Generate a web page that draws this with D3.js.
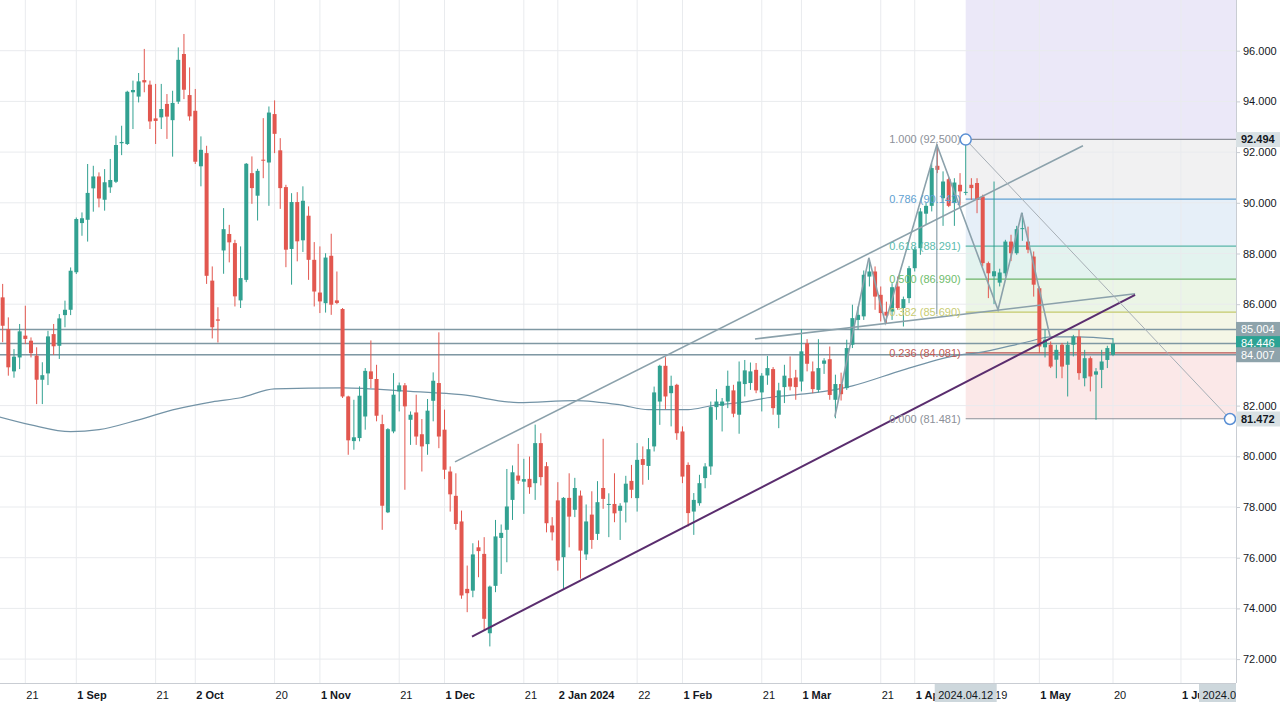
<!DOCTYPE html>
<html>
<head>
<meta charset="utf-8">
<script src="https://cdn.jsdelivr.net/npm/d3@7"></script>
<style>
    body { margin: 0; background: #ffffff; }
    svg { display: block; font-family: "Liberation Sans", Arial, sans-serif; }
</style>
</head>
<body>
<svg id="chart" width="1280" height="702"></svg>
<script>
// Daily candles, 15 Aug 2023 - 20 May 2024 (bar 0 = 15 Aug)
let opens = [
    86.27, 85.02, 83.35, 83.90, 84.76, 84.56, 83.97, 83.02, 83.27, 84.82,
    84.36, 85.57, 85.78, 87.26, 89.20, 89.33, 90.57, 91.04, 90.12, 90.61,
    90.83, 92.35, 92.32, 94.36, 94.19, 94.84, 94.66, 93.33, 93.37, 93.90,
    93.26, 93.99, 95.87, 94.25, 93.63, 91.44, 91.96, 86.93, 85.40, 88.12,
    88.77, 88.41, 86.15, 86.96, 91.17, 90.28, 91.70, 91.59, 93.50, 92.07,
    90.62, 88.18, 90.03, 88.52, 89.49, 87.75, 86.46, 86.04, 87.91, 86.15,
    85.81, 82.36, 80.60, 80.72, 81.57, 83.35, 83.05, 81.27, 77.79, 80.98,
    82.56, 82.80, 81.44, 81.73, 80.87, 80.48, 82.19, 82.89, 81.05, 79.40,
    78.44, 77.43, 74.77, 74.70, 76.41, 76.15, 73.02, 74.89, 76.78, 77.10,
    78.28, 79.24, 79.00, 79.11, 78.94, 80.52, 79.61, 77.27, 78.26, 76.02,
    78.36, 77.89, 78.45, 76.13, 77.70, 76.94, 78.75, 78.10, 78.12, 77.85,
    78.18, 79.03, 78.35, 79.89, 79.62, 80.39, 82.16, 83.57, 82.49, 82.82,
    80.98, 79.66, 77.82, 78.15, 79.14, 79.60, 81.94, 81.99, 82.16, 82.60,
    81.64, 82.85, 82.89, 83.41, 82.52, 83.19, 83.44, 81.64, 82.73, 83.08,
    83.11, 82.95, 84.46, 83.35, 82.62, 83.65, 83.83, 82.23, 82.85, 82.69,
    84.40, 85.38, 85.52, 87.09, 87.29, 86.37, 85.70, 85.71, 86.70, 85.85,
    86.24, 87.42, 88.21, 89.57, 89.88, 91.46, 90.18, 90.93, 89.99, 90.71,
    90.40, 90.71, 90.78, 90.25, 87.62, 87.10, 86.85, 87.22, 88.47, 88.01,
    88.97, 88.47, 87.88, 86.63, 84.30, 84.40, 83.81, 84.40, 83.61, 84.40,
    84.72, 83.08, 83.87, 83.22, 83.41, 83.80, 84.00
];
let highs = [
    86.80, 85.48, 84.23, 85.22, 85.94, 84.69, 84.30, 83.71, 84.95, 85.22,
    85.61, 86.14, 87.45, 89.42, 89.62, 91.53, 91.46, 91.20, 91.33, 91.73,
    92.65, 93.04, 94.42, 94.82, 95.12, 96.07, 94.82, 94.69, 94.69, 94.29,
    94.42, 96.13, 96.66, 95.34, 94.49, 92.62, 92.25, 87.49, 85.88, 89.79,
    89.13, 88.54, 88.28, 91.57, 91.83, 91.34, 93.34, 93.80, 94.04, 92.55,
    90.71, 90.38, 90.42, 90.65, 89.86, 88.45, 88.28, 88.01, 88.78, 87.29,
    85.85, 82.39, 82.23, 82.76, 83.48, 84.57, 83.61, 81.64, 81.11, 83.28,
    82.91, 82.89, 81.77, 82.43, 81.47, 82.26, 83.31, 84.89, 81.84, 79.60,
    79.33, 77.86, 75.69, 76.57, 76.68, 76.81, 74.90, 77.49, 77.31, 79.50,
    79.64, 80.49, 79.90, 79.99, 81.25, 80.91, 79.77, 77.60, 78.98, 78.39,
    79.33, 79.15, 78.65, 78.10, 78.62, 79.02, 80.69, 78.54, 79.33, 78.15,
    79.23, 79.66, 80.52, 80.39, 80.72, 82.75, 83.61, 83.91, 83.18, 82.86,
    81.18, 79.76, 78.55, 79.27, 79.73, 82.16, 82.65, 82.30, 83.38, 82.82,
    83.74, 83.80, 83.70, 83.68, 83.28, 83.96, 83.52, 82.90, 83.61, 83.94,
    83.41, 85.02, 84.62, 83.74, 84.62, 83.87, 84.33, 83.22, 83.30, 84.60,
    85.98, 85.91, 87.33, 87.75, 87.49, 86.70, 86.10, 86.83, 87.09, 86.30,
    87.51, 88.25, 89.79, 89.99, 91.56, 92.30, 91.24, 91.00, 90.97, 91.17,
    92.50, 90.97, 90.97, 90.32, 87.68, 90.84, 87.40, 88.54, 88.74, 89.09,
    89.60, 89.06, 88.08, 86.70, 85.00, 84.53, 84.40, 84.47, 84.53, 84.79,
    84.99, 84.20, 83.94, 83.48, 84.20, 84.36, 84.66
];
let lows = [
    84.50, 83.18, 83.10, 83.44, 84.43, 83.90, 82.06, 82.06, 82.81, 84.00,
    83.84, 85.09, 85.57, 87.19, 88.70, 88.47, 89.65, 89.82, 89.69, 90.39,
    90.78, 91.88, 92.28, 92.91, 93.96, 94.36, 92.91, 92.32, 92.91, 92.52,
    91.82, 93.90, 94.09, 93.24, 91.53, 90.65, 86.80, 84.65, 84.49, 87.20,
    87.65, 85.91, 85.85, 86.87, 89.96, 89.30, 90.97, 89.88, 91.96, 89.76,
    87.46, 86.77, 87.69, 88.06, 86.96, 85.91, 85.65, 85.67, 85.58, 86.00,
    82.30, 80.06, 80.26, 80.59, 81.05, 82.69, 81.38, 77.10, 77.76, 80.91,
    81.77, 78.68, 80.45, 80.45, 79.40, 80.06, 81.38, 80.32, 79.10, 77.82,
    77.10, 74.38, 73.85, 74.44, 75.23, 73.13, 72.50, 74.64, 75.36, 75.82,
    77.49, 78.91, 77.73, 78.52, 78.28, 78.85, 77.00, 76.68, 75.49, 74.73,
    76.41, 77.60, 75.17, 75.91, 76.35, 76.70, 77.93, 76.81, 77.40, 76.70,
    77.39, 78.35, 77.82, 78.88, 79.07, 80.19, 81.24, 81.86, 81.18, 80.65,
    78.94, 77.23, 76.90, 78.05, 78.74, 79.27, 81.44, 80.98, 81.90, 81.54,
    80.89, 82.36, 82.62, 82.49, 81.77, 82.82, 81.64, 81.11, 82.10, 82.60,
    82.23, 82.56, 83.35, 82.49, 82.52, 83.25, 82.23, 81.50, 82.20, 82.62,
    84.27, 84.99, 85.38, 86.70, 85.78, 85.32, 85.25, 85.38, 85.78, 85.12,
    86.04, 87.29, 87.95, 89.13, 89.66, 91.17, 89.09, 89.83, 89.09, 89.90,
    90.30, 90.12, 89.59, 87.49, 86.24, 86.00, 86.70, 87.09, 87.70, 87.95,
    88.50, 88.01, 86.30, 84.07, 83.90, 83.48, 83.08, 83.08, 82.36, 83.94,
    83.02, 82.76, 82.56, 81.44, 82.69, 83.48, 83.95
];
let closes = [
    85.15, 83.51, 83.93, 84.93, 84.63, 84.07, 83.02, 83.20, 84.73, 84.34,
    85.44, 85.78, 87.32, 89.36, 89.39, 90.39, 91.04, 90.17, 90.81, 90.90,
    92.28, 92.40, 94.38, 94.45, 94.79, 94.75, 93.21, 93.23, 93.70, 93.40,
    93.94, 95.64, 94.46, 93.41, 91.62, 92.09, 87.12, 85.09, 85.35, 88.96,
    88.44, 86.31, 87.03, 91.54, 90.58, 91.26, 91.66, 93.56, 92.72, 90.58,
    88.15, 90.03, 88.48, 90.08, 87.75, 86.50, 86.11, 87.84, 85.98, 86.05,
    82.36, 80.63, 80.75, 82.39, 83.37, 83.05, 81.60, 78.05, 81.07, 82.43,
    82.80, 81.97, 81.64, 80.78, 80.39, 81.80, 82.98, 80.78, 79.47, 78.50,
    77.33, 74.51, 74.60, 76.13, 76.26, 73.59, 74.86, 76.84, 76.98, 78.02,
    79.37, 79.04, 79.10, 78.78, 80.52, 79.18, 77.36, 77.00, 75.89, 78.36,
    77.62, 78.75, 76.28, 77.43, 76.70, 78.19, 78.32, 78.12, 77.75, 78.05,
    78.92, 78.68, 79.86, 79.66, 80.28, 82.52, 83.57, 82.36, 82.78, 80.91,
    79.20, 77.76, 78.28, 78.94, 79.60, 81.94, 82.16, 82.16, 82.78, 81.68,
    82.95, 83.39, 83.35, 82.60, 83.18, 83.48, 81.90, 82.60, 83.18, 82.75,
    82.73, 84.14, 83.65, 82.65, 83.48, 83.78, 82.42, 82.85, 82.45, 84.27,
    85.45, 85.58, 87.16, 87.29, 86.30, 85.65, 85.55, 86.67, 85.85, 86.20,
    87.42, 88.17, 89.66, 89.88, 91.37, 91.30, 90.84, 89.88, 90.80, 90.45,
    90.43, 90.58, 90.12, 87.62, 87.22, 87.30, 87.25, 88.47, 88.01, 88.96,
    89.00, 88.15, 86.77, 84.33, 84.60, 83.54, 84.20, 83.54, 84.40, 84.72,
    83.28, 83.87, 83.15, 83.35, 83.74, 84.27, 84.446
];

// Moving average (bar index, price)
let maBars = [-0.5, 5, 12, 17, 24, 30, 37, 42, 48, 60, 72, 81, 91, 101, 109, 114, 121, 125, 131, 135, 141, 147, 150, 159, 169, 172, 181, 185, 190, 196];
let maValues = [81.55, 81.24, 80.97, 81.05, 81.44, 81.83, 82.15, 82.31, 82.66, 82.70, 82.56, 82.43, 82.12, 82.20, 82.03, 81.84, 81.84, 81.99, 82.15, 82.31, 82.45, 82.63, 82.78, 83.41, 84.00, 84.08, 84.52, 84.71, 84.71, 84.63];

// Time axis ticks (bar index)
let tickText = ["21", "1 Sep", "21", "2 Oct", "20", "1 Nov", "21", "1 Dec", "21", "2 Jan 2024",
    "22", "1 Feb", "21", "1 Mar", "21", "1 Apr", "19", "1 May", "20", "1 Jun"];
let tickBar = [4, 13, 27, 34, 48, 56, 70, 78, 92, 98, 112, 120, 134, 141, 155, 161, 175, 183, 196, 208];

// Price axis ticks
let priceTicks = [72, 74, 76, 78, 80, 82, 84, 86, 88, 90, 92, 94, 96];

// Fibonacci retracement
let fibHigh = 92.5;
let fibLow = 81.481;
let fibStartBar = 170;
let fibLevels = [1, 0.786, 0.618, 0.5, 0.382, 0.236, 0];
let fibLineColors = ["#8c9098", "#5f9fd1", "#58b6a8", "#6cb36a", "#c5ca6c", "#b85450", "#8c9098"];
let fibTextColors = ["#8c9098", "#5f9fd1", "#5cbcae", "#6fbd6c", "#c8cc72", "#c05a55", "#8c9098"];
let fibZoneColors = ["#f1f1f2", "#e6eff8", "#e3f3ef", "#ebf5e6", "#f4f6e6", "#fbe8e8"];
let fibTopColor = "#ebe8f8";

// Horizontal rays
let hLines = [85.004, 84.446, 84.007];

// Trend lines (bar index, price)
let upperChannel = [[79.85, 79.78], [190.7, 92.25]];
let lowerChannel = [[82.85, 72.89], [199.9, 86.37]];
let neckline = [[132.8, 84.63], [199.9, 86.41]];
let pattern = [[146.9, 81.56], [152.9, 87.83], [155.8, 85.27], [164.9, 92.29], [175.7, 85.78], [179.9, 89.61], [184.9, 84.71]];
let headLine = [[164.9, 92.29], [164.9, 85.6]];
let diagLine = [[170, 92.494], [216.65, 81.472]];

// Price labels on the right axis
let axisLabelValues = [92.494, 85.004, 84.446, 84.007, 81.472];
let axisLabelFill = ["#d9e1e4", "#8ea3ab", "#2ba394", "#8ea3ab", "#d9e1e4"];
let axisLabelText = ["#131722", "#ffffff", "#ffffff", "#ffffff", "#131722"];

// Date labels on the time axis
let dateLabelBars = [170, 216.65];
let dateLabelText = ["2024.04.12", "2024.06.18"];

let upColor = "#32a191";
let downColor = "#e2574f";

let width = 1280;
let height = 702;
let plotW = 1236;
let plotH = 683;
let barStep = 5.665;

let x = d3.scaleLinear()
    .domain([0, 196])
    .range([2.66, 2.66 + 196 * barStep]);

let y = d3.scaleLinear()
    .domain([72, 96])
    .range([659.1, 50.7]);

let svg = d3.select("#chart");

svg.append("defs").append("clipPath")
    .attr("id", "plotClip")
    .append("rect")
    .attr("width", plotW)
    .attr("height", plotH);

let plot = svg.append("g").attr("clip-path", "url(#plotClip)");

// Fib background zones
let fibPrice = function (l) { return fibLow + l * (fibHigh - fibLow); };

plot.append("rect")
    .attr("x", x(fibStartBar))
    .attr("y", 0)
    .attr("width", plotW - x(fibStartBar))
    .attr("height", y(fibHigh))
    .attr("fill", fibTopColor);

plot.selectAll("rect.zone")
    .data(fibZoneColors)
    .enter()
    .append("rect")
    .attr("class", "zone")
    .attr("x", x(fibStartBar))
    .attr("y", function (d, i) { return y(fibPrice(fibLevels[i])); })
    .attr("width", plotW - x(fibStartBar))
    .attr("height", function (d, i) { return y(fibPrice(fibLevels[i + 1])) - y(fibPrice(fibLevels[i])); })
    .attr("fill", function (d) { return d; });

// Grid
plot.selectAll("line.hgrid")
    .data(priceTicks)
    .enter()
    .append("line")
    .attr("x1", 0)
    .attr("x2", plotW)
    .attr("y1", function (d) { return y(d); })
    .attr("y2", function (d) { return y(d); })
    .attr("stroke", "#e9ebee")
    .attr("stroke-width", 1);

plot.selectAll("line.vgrid")
    .data(tickBar)
    .enter()
    .append("line")
    .attr("x1", function (d) { return x(d); })
    .attr("x2", function (d) { return x(d); })
    .attr("y1", 0)
    .attr("y2", plotH)
    .attr("stroke", "#e9ebee")
    .attr("stroke-width", 1);

// Fib level lines
plot.selectAll("line.fib")
    .data(fibLevels)
    .enter()
    .append("line")
    .attr("x1", x(fibStartBar))
    .attr("x2", plotW)
    .attr("y1", function (d) { return y(fibPrice(d)); })
    .attr("y2", function (d) { return y(fibPrice(d)); })
    .attr("stroke", function (d, i) { return fibLineColors[i]; })
    .attr("stroke-width", 1.2);

// Horizontal rays
plot.selectAll("line.hray")
    .data(hLines)
    .enter()
    .append("line")
    .attr("x1", 0)
    .attr("x2", plotW)
    .attr("y1", function (d) { return y(d); })
    .attr("y2", function (d) { return y(d); })
    .attr("stroke", "#7f98a3")
    .attr("stroke-width", 1.5);

// Moving average
let maLine = d3.line()
    .x(function (d) { return x(d[0]); })
    .y(function (d) { return y(d[1]); })
    .curve(d3.curveMonotoneX);

plot.append("path")
    .datum(maBars.map(function (b, i) { return [b, maValues[i]]; }))
    .attr("d", maLine)
    .attr("fill", "none")
    .attr("stroke", "#7393a6")
    .attr("stroke-width", 1.2);

// Candles
let bars = opens.map(function (o, i) {
    return { i: i, o: o, h: highs[i], l: lows[i], c: closes[i] };
});
let candleColor = function (d) { return d.c >= d.o ? upColor : downColor; };

plot.selectAll("line.wick")
    .data(bars)
    .enter()
    .append("line")
    .attr("x1", function (d) { return x(d.i); })
    .attr("x2", function (d) { return x(d.i); })
    .attr("y1", function (d) { return y(d.h); })
    .attr("y2", function (d) { return y(d.l); })
    .attr("stroke", candleColor)
    .attr("stroke-width", 1);

plot.selectAll("rect.body")
    .data(bars)
    .enter()
    .append("rect")
    .attr("x", function (d) { return x(d.i) - 2; })
    .attr("y", function (d) { return y(Math.max(d.o, d.c)); })
    .attr("width", 4)
    .attr("height", function (d) { return Math.max(1, Math.abs(y(d.o) - y(d.c))); })
    .attr("fill", candleColor);

// Drawings
let seg = d3.line()
    .x(function (d) { return x(d[0]); })
    .y(function (d) { return y(d[1]); });

let drawings = [
    { pts: upperChannel, color: "#8ba1ab", w: 1.6 },
    { pts: neckline, color: "#8ba1ab", w: 1.6 },
    { pts: pattern, color: "#8ba1ab", w: 1.6 },
    { pts: headLine, color: "#8ba1ab", w: 1.2 },
    { pts: lowerChannel, color: "#5a2d6e", w: 2 },
    { pts: diagLine, color: "#a6aeb5", w: 1 }
];

plot.selectAll("path.drawing")
    .data(drawings)
    .enter()
    .append("path")
    .attr("d", function (d) { return seg(d.pts); })
    .attr("fill", "none")
    .attr("stroke", function (d) { return d.color; })
    .attr("stroke-width", function (d) { return d.w; });

// Fib labels
plot.selectAll("text.fib")
    .data(fibLevels)
    .enter()
    .append("text")
    .attr("x", x(fibStartBar) - 5)
    .attr("y", function (d) { return y(fibPrice(d)); })
    .attr("dy", "0.35em")
    .attr("text-anchor", "end")
    .attr("font-size", 11)
    .attr("fill", function (d, i) { return fibTextColors[i]; })
    .text(function (d) { return d.toFixed(3) + " (" + fibPrice(d).toFixed(3) + ")"; });

// Anchor circles of the trend line
plot.selectAll("circle.anchor")
    .data(diagLine)
    .enter()
    .append("circle")
    .attr("cx", function (d) { return x(d[0]); })
    .attr("cy", function (d) { return y(d[1]); })
    .attr("r", 5.5)
    .attr("fill", "#ffffff")
    .attr("stroke", "#5a8fd4")
    .attr("stroke-width", 1.5);

// Right price axis
let yAxis = d3.axisRight(y)
    .tickValues(priceTicks)
    .tickSize(4)
    .tickPadding(3)
    .tickFormat(d3.format(".3f"));

let yAxisG = svg.append("g")
    .attr("transform", "translate(" + plotW + ",0)")
    .call(yAxis);
yAxisG.select(".domain").attr("stroke", "#c9cdd3").attr("d", "M0.5,0V" + plotH);
yAxisG.selectAll(".tick line").attr("stroke", "#c9cdd3");
yAxisG.selectAll(".tick text")
    .attr("font-size", 11)
    .attr("font-family", "Liberation Sans, Arial, sans-serif")
    .attr("fill", "#131722");

// Coloured price labels
let labelG = svg.selectAll("g.plabel")
    .data(axisLabelValues)
    .enter()
    .append("g")
    .attr("transform", function (d) { return "translate(" + plotW + "," + y(d) + ")"; });

labelG.append("rect")
    .attr("x", 0)
    .attr("y", -7.5)
    .attr("width", width - plotW)
    .attr("height", 15)
    .attr("fill", function (d, i) { return axisLabelFill[i]; });

labelG.append("text")
    .attr("x", 5)
    .attr("dy", "0.35em")
    .attr("font-size", 11)
    .attr("font-weight", function (d, i) { return axisLabelText[i] === "#ffffff" ? "normal" : "bold"; })
    .attr("fill", function (d, i) { return axisLabelText[i]; })
    .text(function (d) { return d.toFixed(3); });

// Bottom time axis
svg.append("line")
    .attr("x1", 0)
    .attr("x2", plotW)
    .attr("y1", plotH + 0.5)
    .attr("y2", plotH + 0.5)
    .attr("stroke", "#c9cdd3");

let timeG = svg.append("g").attr("clip-path", "url(#timeClip)");
svg.select("defs").append("clipPath")
    .attr("id", "timeClip")
    .append("rect")
    .attr("width", plotW)
    .attr("height", height);

timeG.selectAll("text.tick")
    .data(tickBar)
    .enter()
    .append("text")
    .attr("x", function (d) { return x(d) + 1; })
    .attr("y", 699)
    .attr("font-size", 11)
    .attr("font-weight", function (d, i) { return tickText[i].length > 2 ? "bold" : "normal"; })
    .attr("fill", "#131722")
    .text(function (d, i) { return tickText[i]; });

// Date labels of the selected drawing
let dateG = timeG.selectAll("g.dlabel")
    .data(dateLabelBars)
    .enter()
    .append("g")
    .attr("transform", function (d) { return "translate(" + x(d) + "," + (plotH + 1) + ")"; });

dateG.append("rect")
    .attr("x", -31)
    .attr("y", 0)
    .attr("width", 62)
    .attr("height", height - plotH - 1)
    .attr("fill", "#cdd7dc");

dateG.append("text")
    .attr("y", 15)
    .attr("text-anchor", "middle")
    .attr("font-size", 11)
    .attr("fill", "#131722")
    .text(function (d, i) { return dateLabelText[i]; });
</script>
</body>
</html>
